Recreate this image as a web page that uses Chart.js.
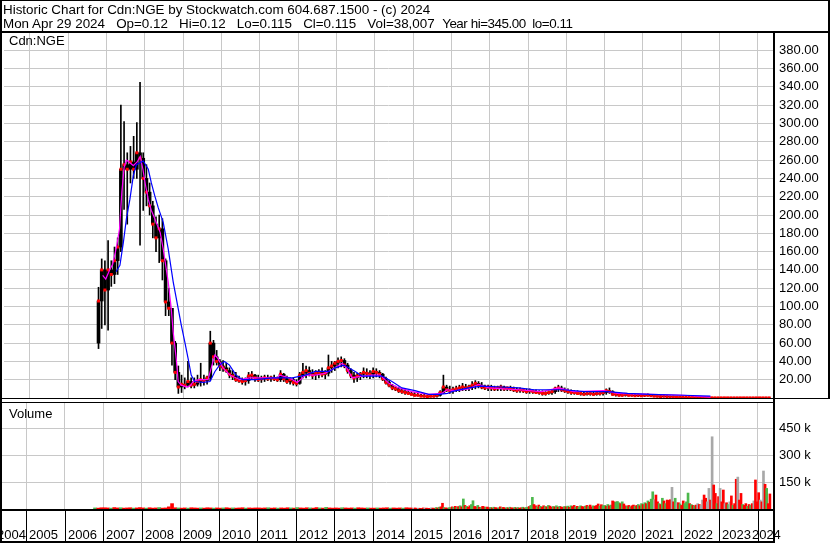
<!DOCTYPE html>
<html>
<head>
<meta charset="utf-8">
<script src="https://cdn.jsdelivr.net/npm/chart.js@4.4.1/dist/chart.umd.min.js"></script>
<style>
body { margin: 0; background: #fff; }
#wrap { position: relative; width: 830px; height: 543px; overflow: hidden; background: #fff;
        font-family: "Liberation Sans", Arial, sans-serif; font-size: 13px; color: #000; }
#wrap canvas { position: absolute; left: 0; }
.txt { position: absolute; white-space: pre; line-height: 15px; }
.head { font-size: 13.4px; }
.tight { letter-spacing: -0.45px; }
</style>
</head>
<body>
<div id="wrap">
  <canvas id="priceChart" width="830" height="402" style="top:0;width:830px;height:402px"></canvas>
  <canvas id="volChart" width="830" height="141" style="top:402px;width:830px;height:141px"></canvas>
  <div class="txt head" style="left:3px;top:2px">Historic Chart for Cdn:NGE by Stockwatch.com 604.687.1500 - (c) 2024</div>
  <div class="txt head" style="left:3px;top:16px">Mon Apr 29 2024   Op=0.12   Hi=0.12   Lo=0.115   Cl=0.115   Vol=38,007  <span class="tight">Year hi=345.00  lo=0.11</span></div>
  <div class="txt" style="left:9px;top:33px">Cdn:NGE</div>
  <div class="txt" style="left:9px;top:406px">Volume</div>
</div>
<script>
// year boundaries on the time axis (tick labels)
const years = [2004, 2005, 2006, 2007, 2008, 2009, 2010, 2011, 2012, 2013, 2014,
               2015, 2016, 2017, 2018, 2019, 2020, 2021, 2022, 2023, 2024];
const priceTicks = [20, 40, 60, 80, 100, 120, 140, 160, 180, 200, 220, 240, 260, 280, 300, 320, 340, 360, 380];
const volTicks = [150, 300, 450];   // thousands

// monthly bars, Oct 2006 .. Apr 2024
const firstMonth = 2006.75;
const open = [
  60, 106, 140,
  118, 140, 135, 150, 165, 250, 255, 250, 258, 250, 268, 262,
  240, 225, 210, 190, 175, 185, 150, 105, 98, 60, 28, 12,
  15, 14, 18, 14, 15, 18, 20, 19, 22, 60, 45, 40,
  35, 33, 30, 26, 24, 20, 19, 18, 19, 24, 25, 22,
  20, 21, 22, 21, 22, 21, 20, 26, 21, 18, 20, 17,
  16, 25, 28, 30, 27, 25, 27, 28, 26, 27, 33, 35,
  38, 40, 41, 36, 30, 25, 22, 24, 26, 28, 27, 26,
  29, 28, 26, 21, 17, 14, 11, 10, 8, 7, 6, 5,
  4, 3, 3, 2, 2, 1.5, 2, 2, 3, 6, 12, 9,
  8, 9, 10, 11, 12, 11, 12, 14, 16, 14, 12, 11,
  12, 11, 10, 11, 12, 10, 11, 10, 9, 8, 9, 8,
  7, 8, 7, 6, 6, 5, 5, 6, 7, 10, 11, 9,
  8, 7, 6, 6, 5, 5, 4, 5, 5, 4, 5, 5,
  6, 8, 7, 4, 4, 3, 3, 4, 3, 3, 2.5, 3,
  2.5, 3, 3, 2.5, 2, 2, 1.5, 2, 1.5, 1.2, 1.2, 1,
  0.9, 0.8, 0.7, 0.6, 0.5, 0.4, 0.4, 0.3, 0.3, 0.2, 0.2, 0.15,
  0.15, 0.14, 0.14, 0.13, 0.13, 0.12, 0.12, 0.12, 0.11, 0.12, 0.12, 0.11,
  0.12, 0.12, 0.11, 0.12
];
const high = [
  121, 152, 150,
  172, 150, 165, 175, 320, 302, 268, 275, 286, 301, 345, 268,
  255, 235, 215, 198, 200, 196, 152, 120, 98, 62, 35, 25,
  22, 40, 22, 22, 25, 38, 25, 24, 73, 63, 52, 42,
  41, 38, 33, 30, 28, 24, 22, 22, 28, 29, 26, 25,
  24, 25, 25, 24, 25, 23, 30, 27, 24, 22, 22, 20,
  28, 38, 35, 34, 31, 30, 31, 33, 30, 47, 40, 40,
  44, 45, 43, 38, 32, 28, 27, 28, 33, 32, 30, 33,
  32, 30, 27, 23, 19, 15, 13, 12, 10, 9, 8, 7,
  6, 5, 4, 4, 3, 3, 3, 4, 8, 25, 14, 13,
  12, 13, 14, 16, 15, 14, 18, 19, 18, 17, 14, 14,
  14, 13, 13, 14, 13, 12, 13, 12, 11, 11, 10, 10,
  10, 9, 9, 8, 8, 7, 8, 9, 12, 14, 13, 11,
  10, 9, 8, 8, 7, 7, 6, 7, 7, 6, 7, 8,
  10, 11, 8, 6, 6, 5, 5, 5, 4, 4, 4, 4,
  4, 4.5, 4, 3.5, 3, 3, 2.5, 2.5, 2, 2, 1.8, 1.5,
  1.3, 1.2, 1, 0.9, 0.7, 0.6, 0.5, 0.4, 0.35, 0.3, 0.25, 0.2,
  0.18, 0.17, 0.16, 0.16, 0.15, 0.15, 0.14, 0.14, 0.14, 0.14, 0.14, 0.13,
  0.14, 0.13, 0.13, 0.12
];
const low = [
  54, 76, 80,
  74, 122, 125, 135, 160, 206, 190, 235, 240, 240, 167, 205,
  210, 200, 175, 160, 148, 129, 90, 90, 36, 20, 5, 6,
  10, 12, 11, 11, 13, 13, 14, 15, 19, 36, 36, 30,
  29, 28, 22, 20, 18, 17, 15, 14, 16, 20, 18, 18,
  17, 18, 19, 18, 19, 18, 18, 18, 16, 15, 14, 13,
  15, 22, 22, 24, 21, 20, 22, 23, 21, 24, 28, 30,
  33, 34, 33, 27, 22, 17, 18, 20, 22, 22, 21, 22,
  23, 22, 19, 15, 12, 9, 8, 6, 5, 4, 4, 3,
  2, 2, 1.5, 1, 1, 1, 1, 1, 2, 5, 7, 5,
  5, 7, 7, 8, 8, 8, 9, 10, 11, 10, 9, 8,
  8, 8, 8, 8, 8, 8, 8, 7, 6, 6, 6, 5,
  5, 5, 5, 4, 3, 3, 4, 4, 5, 7, 7, 6,
  5, 4, 4, 4, 3, 3, 3, 3, 3, 3, 3, 3,
  4, 5, 3, 2, 2, 2, 2, 2, 2, 1.5, 1.5, 1.5,
  1.5, 2, 1.5, 1.5, 1, 1, 1, 1, 0.8, 0.8, 0.7, 0.6,
  0.5, 0.5, 0.4, 0.4, 0.3, 0.3, 0.25, 0.2, 0.15, 0.15, 0.12, 0.12,
  0.12, 0.12, 0.11, 0.11, 0.11, 0.1, 0.1, 0.1, 0.1, 0.1, 0.1, 0.1,
  0.1, 0.1, 0.1, 0.11
];
const close = [
  106, 140, 118,
  140, 135, 150, 165, 250, 255, 250, 258, 250, 268, 262, 240,
  225, 210, 190, 175, 185, 150, 105, 98, 60, 28, 12, 15,
  14, 18, 14, 15, 18, 20, 19, 22, 60, 45, 40, 35,
  33, 30, 26, 24, 20, 19, 18, 19, 24, 25, 22, 20,
  21, 22, 21, 22, 21, 20, 26, 21, 18, 20, 17, 16,
  25, 28, 30, 27, 25, 27, 28, 26, 27, 33, 35, 38,
  40, 41, 36, 30, 25, 22, 24, 26, 28, 27, 26, 29,
  28, 26, 21, 17, 14, 11, 10, 8, 7, 6, 5, 4,
  3, 3, 2, 2, 1.5, 2, 2, 3, 6, 12, 9, 8,
  9, 10, 11, 12, 11, 12, 14, 16, 14, 12, 11, 12,
  11, 10, 11, 12, 10, 11, 10, 9, 8, 9, 8, 7,
  8, 7, 6, 6, 5, 5, 6, 7, 10, 11, 9, 8,
  7, 6, 6, 5, 5, 4, 5, 5, 4, 5, 5, 6,
  8, 7, 4, 4, 3, 3, 4, 3, 3, 2.5, 3, 2.5,
  3, 3, 2.5, 2, 2, 1.5, 2, 1.5, 1.2, 1.2, 1, 0.9,
  0.8, 0.7, 0.6, 0.5, 0.4, 0.4, 0.3, 0.3, 0.2, 0.2, 0.15, 0.15,
  0.14, 0.14, 0.13, 0.13, 0.12, 0.12, 0.12, 0.11, 0.12, 0.12, 0.11, 0.12,
  0.12, 0.11, 0.12, 0.115
];

// moving averages, [year, price]
const maShort = [
  [2006.90, 134], [2006.98, 130], [2007.08, 140], [2007.16, 146], [2007.26, 165], [2007.34, 185],
  [2007.40, 225], [2007.46, 252], [2007.52, 260], [2007.70, 254], [2007.80, 258], [2007.88, 264],
  [2007.95, 250], [2008.02, 232], [2008.09, 217], [2008.17, 205], [2008.26, 196], [2008.40, 181],
  [2008.48, 163], [2008.61, 127], [2008.69, 98], [2008.74, 72], [2008.82, 43], [2008.87, 18],
  [2008.95, 14], [2009.10, 12], [2009.20, 14], [2009.26, 18], [2009.40, 20], [2009.65, 20],
  [2009.78, 40], [2009.83, 47], [2009.91, 43], [2010.04, 33], [2010.22, 25], [2010.48, 20],
  [2010.74, 22], [2011.07, 22], [2011.46, 22], [2011.52, 25], [2011.77, 22], [2011.98, 17],
  [2012.19, 25], [2012.45, 25], [2012.71, 27], [2012.97, 33], [2013.15, 38], [2013.28, 32],
  [2013.41, 22], [2013.67, 24], [2013.93, 25], [2014.14, 25], [2014.37, 16], [2014.63, 11],
  [2014.97, 7], [2015.41, 4], [2015.75, 5], [2015.88, 9], [2016.09, 8], [2016.45, 10],
  [2016.71, 15], [2016.97, 11], [2017.75, 9], [2018.34, 7], [2018.81, 11], [2019.20, 7],
  [2019.98, 8], [2020.34, 5], [2021.20, 4], [2022.06, 3], [2022.76, 1]
];
const maLong = [
  [2007.25, 138], [2007.35, 145], [2007.44, 170], [2007.52, 196], [2007.61, 217], [2007.70, 243],
  [2007.78, 255], [2007.96, 259], [2008.09, 250], [2008.17, 235], [2008.26, 221], [2008.35, 208],
  [2008.48, 192], [2008.61, 163], [2008.74, 127], [2008.87, 98], [2008.95, 80], [2009.04, 62],
  [2009.13, 43], [2009.21, 25], [2009.30, 18], [2009.52, 17], [2009.70, 18], [2009.83, 29],
  [2009.95, 36], [2010.08, 40], [2010.21, 36], [2010.38, 25], [2010.55, 20], [2010.89, 20],
  [2011.33, 22], [2011.85, 22], [2012.19, 25], [2012.45, 29], [2012.81, 29], [2012.97, 33],
  [2013.20, 36], [2013.49, 29], [2013.67, 24], [2014.19, 24], [2014.45, 18], [2014.71, 11],
  [2015.05, 8], [2015.41, 4], [2015.67, 4], [2015.90, 5], [2016.01, 7], [2016.45, 11],
  [2016.79, 13], [2017.31, 12], [2017.75, 11], [2018.16, 9], [2018.94, 9], [2019.46, 7],
  [2020.08, 7], [2020.60, 5], [2021.20, 4], [2022.06, 3], [2022.76, 2]
];

// volume in thousands: monthly Oct 2006 - Dec 2014, then half-monthly from Jan 2015
const volEarly = [
  6, 5, 7,
  7, 6, 5, 8, 6, 7, 5, 6, 7, 5, 6, 8,
  6, 5, 7, 5, 6, 8, 5, 6, 12, 30, 7, 6,
  5, 6, 5, 7, 6, 5, 6, 5, 7, 6, 5, 6,
  5, 6, 7, 5, 6, 5, 6, 7, 5, 6, 5, 6,
  6, 5, 6, 7, 5, 6, 5, 6, 5, 7, 6, 5,
  8, 6, 5, 7, 6, 5, 8, 6, 5, 9, 6, 5,
  6, 5, 7, 6, 5, 6, 5, 7, 6, 5, 6, 5,
  5, 6, 5, 6, 7, 5, 6, 5, 6, 5, 7, 6
];
const volEarlyColor = 'grr' + 'rrgrrgrrrgrr' + 'rgrrrgrrrrrg' + 'rrgrrrgrrrgr' + 'rgrrgrrrgrrr' +
  'rrrgrrgrrrgr' + 'grrrgrrgrgrr' + 'rrgrrrgrrrgr' + 'rgrrrgrrrgrr';
const volLate = [
  5, 4, 6, 3, 5, 4, 3, 6, 4, 5, 3, 4, 6, 5, 4, 8, 6, 10, 12, 32, 8, 6, 5, 7,
  8, 12, 10, 15, 9, 14, 18, 12, 56, 20, 15, 10, 18, 25, 46, 14, 12, 20, 10, 8, 15, 12, 9, 11,
  7, 9, 6, 10, 8, 5, 7, 12, 6, 9, 5, 8, 6, 10, 7, 5, 9, 6, 8, 5, 7, 10, 6, 8,
  10, 14, 20, 65, 25, 18, 12, 22, 15, 10, 18, 14, 12, 20, 16, 10, 14, 12, 18, 10, 15, 12, 9, 14,
  12, 16, 10, 18, 14, 20, 12, 15, 10, 18, 14, 12, 16, 20, 14, 22, 12, 18, 15, 20, 28, 16, 24, 18,
  20, 16, 25, 18, 22, 45, 40, 38, 42, 35, 30, 40, 28, 18, 15, 20, 12, 18, 22, 15, 20, 25, 18, 30,
  25, 35, 30, 45, 38, 55, 96, 52, 78, 40, 30, 25, 60, 45, 30, 50, 48, 52, 121, 40, 60, 35, 35, 28,
  20, 45, 30, 40, 89, 30, 25, 20, 18, 22, 30, 25, 20, 50, 78, 60, 40, 115, 50, 403, 134, 87, 30, 69,
  115, 40, 106, 30, 35, 25, 40, 73, 20, 30, 166, 178, 50, 87, 25, 20, 30, 15, 25, 20, 30, 45, 162, 40,
  91, 50, 40, 212, 138, 115, 30, 84
];
const volLateColor = 'rkrrkrrrkrrrkrrgrgrrgrrg' + 'grgrgrgrgrgrrggrrgrgrrgr' + 'rgrgrrgrgrrgrgrrgrgrrgrg' +
  'grggrrgrgrrgrgrrgrgrgrrg' + 'rgrgrrgrggrrgrgrrgrrrgrg' + 'grgrgrrgggrgrrgrgrrgrgrg' +
  'rgrgrggkrrgrgrgrrrkrgkrg' + 'rrgggrgrgrkrkkrrkkrkrrgr' + 'krrkrgkrgrrkrrgrrgrgrkrr' + 'rkrkrgrr';

const xMin = 2004.325, xMax = 2024.393;
const gridColor = '#c8c8c8';
const volColors = { r: '#ff0000', g: '#4cb84c', k: '#a8a8a8' };

Chart.defaults.font.family = '"Liberation Sans", Arial, sans-serif';
Chart.defaults.font.size = 13;
Chart.defaults.color = '#000';

const months = close.map((_, i) => firstMonth + (i + 0.5) / 12);

function yearAxis() {
    return {
        type: 'linear', min: xMin, max: xMax, offset: false,
        afterBuildTicks: s => { s.ticks = years.slice(1).map(v => ({ value: v })); },
        ticks: { display: false },
        grid: { color: gridColor, drawTicks: false, offset: false },
        border: { display: false }
    };
}

function rightAxis(min, max, ticks, fmt) {
    return {
        position: 'right', min: min, max: max,
        afterBuildTicks: s => { s.ticks = ticks.map(v => ({ value: v })); },
        afterFit: s => { s.width = 57; s.paddingTop = 0; s.paddingBottom = 0; },
        ticks: { padding: 6, color: '#000', font: { size: 13 }, callback: fmt },
        grid: { color: gridColor, drawTicks: false },
        border: { display: false }
    };
}

const common = {
    responsive: false, animation: false, devicePixelRatio: 1, events: [],
    plugins: { legend: { display: false }, tooltip: { enabled: false } }
};

// frame lines round the price panel
const priceFrame = {
    id: 'priceFrame',
    afterDraw(chart) {
        const ctx = chart.ctx, a = chart.chartArea;
        ctx.save();
        ctx.fillStyle = '#000';
        ctx.fillRect(0, 0, chart.width, 1);
        ctx.fillRect(0, a.top - 1, chart.width, 2);
        ctx.fillRect(0, a.bottom, chart.width, 1);
        ctx.fillRect(a.right, a.top, 2, chart.height - a.top);
        ctx.fillRect(0, 0, 2, chart.height);
        ctx.fillRect(chart.width - 2, 0, 2, a.bottom);
        ctx.restore();
    }
};

// year boxes under the volume panel
const yearBoxes = {
    id: 'yearBoxes',
    afterDraw(chart) {
        const ctx = chart.ctx, a = chart.chartArea, xs = chart.scales.x;
        ctx.save();
        ctx.fillStyle = '#000';
        ctx.fillRect(0, a.top, a.right, 1);
        ctx.fillRect(0, a.bottom, a.right + 2, 2);
        ctx.fillRect(a.right, 0, 2, chart.height);
        ctx.fillRect(0, chart.height - 2, a.right + 2, 2);
        ctx.font = '13px "Liberation Sans", Arial, sans-serif';
        ctx.textBaseline = 'alphabetic';
        let lastEnd = 0;
        years.forEach((yr, i) => {
            const px = Math.round(xs.getPixelForValue(yr));
            const label = String(yr);
            const w = ctx.measureText(label).width;
            if (i > 0) ctx.fillRect(px, a.bottom + 2, 1, chart.height - a.bottom - 4);
            let lx;
            if (i === 0) {
                lx = Math.round(xs.getPixelForValue(years[1])) - w;
            } else if (i < years.length - 1) {
                lx = px + 3;
            } else {
                lx = Math.min(px + 3, lastEnd + 1);
            }
            ctx.fillText(label, lx, a.bottom + 30);
            lastEnd = lx + w;
        });
        ctx.fillRect(0, 0, 2, chart.height);
        ctx.restore();
    }
};

new Chart(document.getElementById('priceChart'), {
    type: 'bar',
    data: {
        datasets: [
            {
                label: 'range', order: 5, grouped: false, barThickness: 1, backgroundColor: '#000',
                data: months.map((x, i) => ({ x: x, y: [low[i], high[i]] }))
            },
            {
                label: 'body', order: 4, grouped: false, barThickness: 3, backgroundColor: '#000',
                data: months.map((x, i) => ({ x: x, y: [open[i], close[i]] }))
            },
            {
                type: 'line', label: 'close', order: 3, showLine: false,
                pointStyle: 'rect', pointRadius: 2.1, pointBorderWidth: 0,
                pointBackgroundColor: '#ff0000', pointBorderColor: '#ff0000',
                data: months.map((x, i) => ({ x: x, y: close[i] }))
            },
            {
                type: 'line', label: 'MA short', order: 2, borderColor: '#ff00ff', borderWidth: 1.2,
                pointRadius: 0, tension: 0,
                data: maShort.map(p => ({ x: p[0], y: p[1] }))
            },
            {
                type: 'line', label: 'MA long', order: 1, borderColor: '#0000ff', borderWidth: 1.2,
                pointRadius: 0, tension: 0,
                data: maLong.map(p => ({ x: p[0], y: p[1] }))
            }
        ]
    },
    options: Object.assign({}, common, {
        layout: { padding: { top: 32, bottom: 2, left: 0, right: 0 } },
        scales: {
            x: yearAxis(),
            y: rightAxis(0, 400, priceTicks, v => v.toFixed(2))
        }
    }),
    plugins: [priceFrame]
});

const volData = [];
const volBarColors = [];
volEarly.forEach((v, i) => {
    volData.push({ x: firstMonth + (i + 0.5) / 12, y: v });
    volBarColors.push(volColors[volEarlyColor[i]]);
});
const volData2 = [];
const volBarColors2 = [];
volLate.forEach((v, j) => {
    volData2.push({ x: 2015 + (j + 0.5) / 24, y: v });
    volBarColors2.push(volColors[volLateColor[j]]);
});

new Chart(document.getElementById('volChart'), {
    type: 'bar',
    data: {
        datasets: [
            { label: 'vol', grouped: false, barThickness: 3, backgroundColor: volBarColors, data: volData },
            { label: 'vol2', grouped: false, barThickness: 2, backgroundColor: volBarColors2, data: volData2 }
        ]
    },
    options: Object.assign({}, common, {
        layout: { padding: { top: 0, bottom: 34, left: 0, right: 0 } },
        scales: {
            x: yearAxis(),
            y: rightAxis(0, 597, volTicks, v => v + ' k')
        }
    }),
    plugins: [yearBoxes]
});
</script>
</body>
</html>
